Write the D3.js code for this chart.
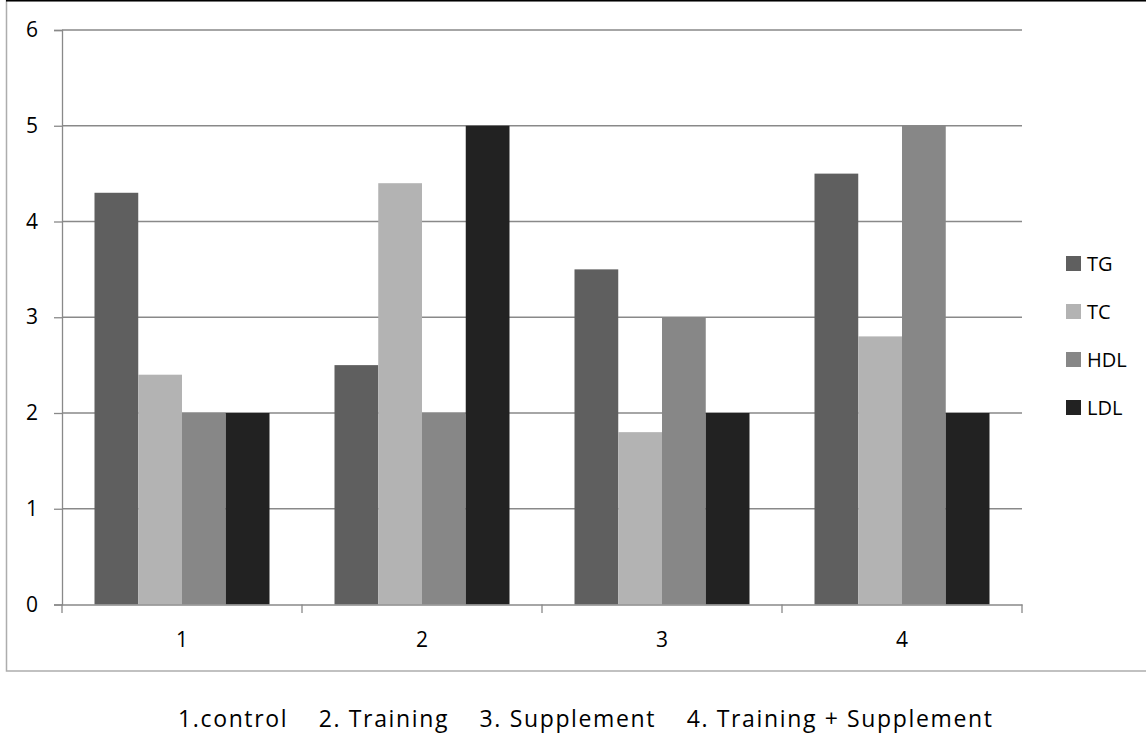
<!DOCTYPE html>
<html>
<head>
<meta charset="utf-8">
<script src="https://cdn.jsdelivr.net/npm/d3@7"></script>
<style>
  body { margin: 0; background: #fff; }
  text { font-family: "Open Sans", "Liberation Sans", sans-serif; fill: #000; }
</style>
</head>
<body>
<script>
var categories = ["1", "2", "3", "4"];
var seriesNames = ["TG", "TC", "HDL", "LDL"];
var tgValues = [4.3, 2.5, 3.5, 4.5];
var tcValues = [2.4, 4.4, 1.8, 2.8];
var hdlValues = [2, 2, 3, 5];
var ldlValues = [2, 5, 2, 2];
var yTicks = [0, 1, 2, 3, 4, 5, 6];
var footnote = "1.control    2. Training    3. Supplement    4. Training + Supplement";

(function(){
    var width = 1146;
    var height = 736;
    var colors = ["#5f5f5f", "#b3b3b3", "#878787", "#222222"];
    var seriesValues = [tgValues, tcValues, hdlValues, ldlValues];

    var svg = d3.select("body").append("svg")
        .attr("width", width)
        .attr("height", height);

    // chart frame
    svg.append("rect")
        .attr("x", 6.5).attr("y", 0.5)
        .attr("width", 1150).attr("height", 670.5)
        .attr("fill", "none")
        .attr("stroke", "#adadad")
        .attr("stroke-width", 1.5);
    svg.append("line")
        .attr("x1", 6).attr("x2", width)
        .attr("y1", 0.5).attr("y2", 0.5)
        .attr("stroke", "#000").attr("stroke-width", 2);

    var xScale = d3.scaleBand().domain(categories).range([62, 1022]);
    var inner = d3.scaleBand().domain(seriesNames).range([32.5, 207.5]);
    var yScale = d3.scaleLinear().domain([0, 6]).range([604.5, 30]);

    // gridlines
    svg.append("g").selectAll("line")
        .data(yTicks.filter((t) => t > 0))
        .enter().append("line")
        .attr("x1", 62).attr("x2", 1022)
        .attr("y1", (d) => yScale(d)).attr("y2", (d) => yScale(d))
        .attr("stroke", "#898989").attr("stroke-width", 1.3);

    // bars
    var rows = [];
    categories.forEach((c, i) => {
        seriesNames.forEach((s, j) => {
            rows.push({ cat: c, series: s, value: seriesValues[j][i], color: colors[j] });
        });
    });
    svg.append("g").selectAll("rect")
        .data(rows)
        .enter().append("rect")
        .attr("x", (d) => xScale(d.cat) + inner(d.series))
        .attr("y", (d) => yScale(d.value))
        .attr("width", inner.bandwidth())
        .attr("height", (d) => yScale(0) - yScale(d.value))
        .attr("fill", (d) => d.color);

    // y axis
    var yAxis = d3.axisLeft(yScale).tickValues(yTicks).tickSize(8).tickPadding(16).tickFormat(d3.format("d"));
    var yg = svg.append("g").attr("transform", "translate(62,0)").call(yAxis)
        .attr("font-size", 21).attr("font-family", "'Open Sans', sans-serif");
    yg.select(".domain").attr("stroke", "#898989").attr("stroke-width", 1.3);
    yg.selectAll(".tick line").attr("stroke", "#898989").attr("stroke-width", 1.3);
    yg.selectAll(".tick text").attr("fill", "#000");

    // x axis
    var xAxis = d3.axisBottom(xScale).tickSize(0).tickPadding(28);
    var xg = svg.append("g").attr("transform", "translate(0,604.5)").call(xAxis)
        .attr("font-size", 21).attr("font-family", "'Open Sans', sans-serif");
    xg.select(".domain").attr("stroke", "#898989").attr("stroke-width", 1.3);
    xg.selectAll(".tick text").attr("fill", "#000");
    // category separator ticks
    svg.append("g").selectAll("line")
        .data(categories.concat(["end"]))
        .enter().append("line")
        .attr("x1", (d, i) => 62 + i * xScale.bandwidth())
        .attr("x2", (d, i) => 62 + i * xScale.bandwidth())
        .attr("y1", 604.5).attr("y2", 613)
        .attr("stroke", "#898989").attr("stroke-width", 1.3);

    // legend
    var legend = svg.append("g").selectAll("g")
        .data(seriesNames)
        .enter().append("g")
        .attr("transform", (d, i) => "translate(1066," + (256 + i * 48) + ")");
    legend.append("rect")
        .attr("width", 15).attr("height", 15)
        .attr("fill", (d, i) => colors[i]);
    legend.append("text")
        .attr("x", 21).attr("y", 15)
        .style("font-size", "20px")
        .text((d) => d);

    // footnote
    svg.append("text")
        .attr("x", 178).attr("y", 727)
        .attr("textLength", 814)
        .attr("lengthAdjust", "spacing")
        .style("font-size", "23px")
        .style("white-space", "pre")
        .attr("xml:space", "preserve")
        .text(footnote);
})();
</script>
</body>
</html>
